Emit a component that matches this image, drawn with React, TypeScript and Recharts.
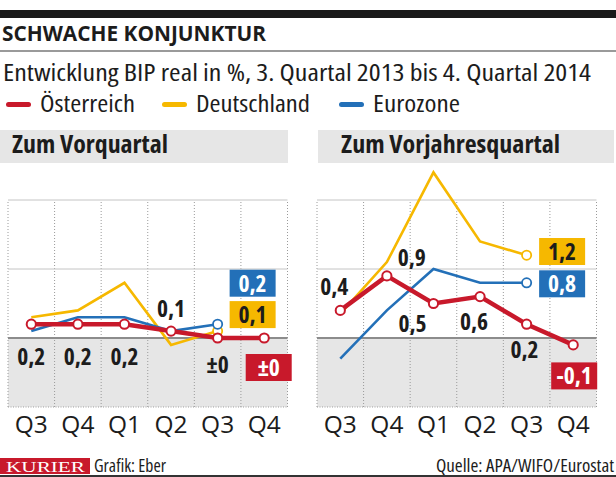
import React from "react";
import {LabelList, Line, LineChart, ReferenceArea, ReferenceLine, XAxis, YAxis,} from "recharts";

const quarters = ["Q3", "Q4", "Q1", "Q2", "Q3", "Q4"];

// Zum Vorquartal
const atQoq = [0.2, 0.2, 0.2, 0.1, 0, 0];
const deQoq = [0.3, 0.4, 0.8, -0.1, 0.1, null];
const ezQoq = [0.1, 0.3, 0.3, 0.1, 0.2, null];

// Zum Vorjahresquartal
const atYoy = [0.4, 0.9, 0.5, 0.6, 0.2, -0.1];
const deYoy = [0.35, 1.1, 2.4, 1.4, 1.2, null];
const ezYoy = [-0.3, 0.4, 1.0, 0.8, 0.8, null];

const gridValues = [-1, 0, 1, 2];

const RED = "#c8192b";
const YELLOW = "#f6b800";
const BLUE = "#2370b8";
const INK = "#1c1c1c";
const FONT = "'Open Sans', 'Roboto', sans-serif";

type Place = { dx: number; dy: number; box?: boolean } | null;

// wo die Werte neben den Punkten stehen
const atQoqPlace: Place[] = [
  {dx: 0, dy: 32}, {dx: 0, dy: 32}, {dx: 0, dy: 32},
  {dx: 0, dy: -23}, {dx: 0, dy: 27}, {dx: 4.5, dy: 29.5, box: true},
];
const deQoqPlace: Place[] = [null, null, null, null, {dx: 35, dy: -16.5, box: true}];
const ezQoqPlace: Place[] = [null, null, null, null, {dx: 35, dy: -41, box: true}];

const atYoyPlace: Place[] = [
  {dx: -6, dy: -24}, {dx: 25, dy: -18}, {dx: -21, dy: 20},
  {dx: -6, dy: 25}, {dx: -2, dy: 25}, {dx: 1, dy: 31, box: true},
];
const deYoyPlace: Place[] = [null, null, null, null, {dx: 35.5, dy: -3.7, box: true}];
const ezYoyPlace: Place[] = [null, null, null, null, {dx: 35.5, dy: 1, box: true}];

const fmt = (v: number) => (v === 0 ? "±0" : v.toFixed(1).replace(".", ","));

const labelStyle: React.CSSProperties = {fontFamily: FONT, fontWeight: 700, fontSize: 23.5, fontStretch: "87.5%"};

function makeLabel(places: Place[], boxColor: string, boxText: string) {
  return (props: any) => {
    const {value, index} = props;
    const x = props.x ?? props.viewBox?.x;
    const y = props.y ?? props.viewBox?.y;
    const p = places[index];
    if (!p || value == null || x == null) return null;
    const cx = x + p.dx;
    const cy = y + p.dy;
    if (p.box) {
      return (
        <g>
          <rect x={cx - 23} y={cy - 13.5} width={46} height={27} fill={boxColor} />
          <text x={cx} y={cy} dy="0.36em" textAnchor="middle" fill={boxText} style={labelStyle}>
            {fmt(value)}
          </text>
        </g>
      );
    }
    return (
      <text x={cx} y={cy} dy="0.36em" textAnchor="middle" fill={INK} style={labelStyle}>
        {fmt(value)}
      </text>
    );
  };
}

function lastDot(color: string, last: number) {
  return (p: any) =>
    p.index === last ? (
      <circle key={p.index} cx={p.cx} cy={p.cy} r={4.6} fill="#fff" stroke={color} strokeWidth={1.8} />
    ) : (
      <g key={p.index} />
    );
}

function Panel({at, de, ez, atPlace, dePlace, ezPlace, left, right}: any) {
  const data = quarters.map((q, i) => ({i, q, at: at[i], de: de[i], ez: ez[i]}));
  const lastDe = de.findLastIndex((v: number | null) => v != null);
  const lastEz = ez.findLastIndex((v: number | null) => v != null);
  return (
    <LineChart
      width={left + 279.5 + right}
      height={330}
      data={data}
      margin={{top: 35.5, right, bottom: 8, left}}
    >
      <XAxis
        dataKey="i"
        type="number"
        domain={[-0.5, 5.5]}
        ticks={[0, 1, 2, 3, 4, 5]}
        tickFormatter={(i: number) => quarters[i]}
        axisLine={false}
        tickLine={false}
        tickMargin={3}
        height={45}
        tick={{fill: INK, fontSize: 24.5, fontFamily: FONT, style: {fontStretch: "95%"}}}
      />
      <YAxis hide type="number" domain={[-1, 2.5]} />
      <ReferenceArea x1={-0.5} x2={5.5} y1={-1} y2={0} fill="#e6e6e6" fillOpacity={1} stroke="none" />
      {quarters.concat("").map((_, k) => (
        <ReferenceLine
          key={"v" + k}
          segment={[{x: k - 0.5, y: -1}, {x: k - 0.5, y: 2}]}
          stroke="#9a9a9a"
          strokeDasharray="1 2"
        />
      ))}
      {gridValues.map((v) => (
        <ReferenceLine
          key={"h" + v}
          y={v}
          stroke={v === 0 ? "#8c8c8c" : v === -1 ? "#a0a0a0" : "#c4c4c4"}
          strokeWidth={v === 0 ? 2 : 1}
          strokeDasharray={v === -1 ? "1 1.5" : undefined}
        />
      ))}
      <Line dataKey="de" stroke={YELLOW} strokeWidth={2.6} dot={lastDot(YELLOW, lastDe)} isAnimationActive={false}>
        <LabelList dataKey="de" content={makeLabel(dePlace, YELLOW, INK)} />
      </Line>
      <Line dataKey="ez" stroke={BLUE} strokeWidth={2.6} dot={lastDot(BLUE, lastEz)} isAnimationActive={false}>
        <LabelList dataKey="ez" content={makeLabel(ezPlace, BLUE, "#fff")} />
      </Line>
      <Line
        dataKey="at"
        stroke={RED}
        strokeWidth={4.5}
        dot={{r: 4.6, fill: "#fff", stroke: RED, strokeWidth: 2}}
        isAnimationActive={false}
      >
        <LabelList dataKey="at" content={makeLabel(atPlace, RED, "#fff")} />
      </Line>
    </LineChart>
  );
}

const abs = (s: React.CSSProperties): React.CSSProperties => ({position: "absolute", ...s});

// Texte mit fester Breite, damit sie wie im Original laufen
function T({x, y, w, size, bold, stretch = "87.5%", fill = INK, family = FONT, children}: any) {
  return (
    <text
      x={x}
      y={y}
      textLength={w}
      lengthAdjust="spacingAndGlyphs"
      fill={fill}
      style={{fontFamily: family, fontSize: size, fontWeight: bold ? 700 : 400, fontStretch: stretch}}
    >
      {children}
    </text>
  );
}

const legend = [
  {name: "Österreich", color: RED, x: 6, w: 95},
  {name: "Deutschland", color: YELLOW, x: 162, w: 114},
  {name: "Eurozone", color: BLUE, x: 339, w: 87},
];

export default function App() {
  return (
    <div style={{position: "fixed", left: 0, top: 0, width: 616, height: 477, background: "#fff", overflow: "hidden"}}>
      <div style={abs({left: 0, top: 10, width: 616, height: 8, background: "#1a1a1a"})} />
      <div style={abs({left: 0, top: 50, width: 616, height: 2, background: "#9a9a9a"})} />
      {legend.map((l) => (
        <div key={l.name} style={abs({left: l.x, top: 102, width: 25, height: 5, borderRadius: 3, background: l.color})} />
      ))}
      <div style={abs({left: 0, top: 130, width: 288, height: 33, background: "#e6e6e6"})} />
      <div style={abs({left: 318, top: 130, width: 296, height: 33, background: "#e6e6e6"})} />
      <div style={abs({left: 0, top: 458, width: 90, height: 16, background: RED})} />
      <div style={abs({left: 0, top: 475, width: 616, height: 2, background: "#333"})} />

      <div style={abs({left: 0, top: 130})}>
        <Panel at={atQoq} de={deQoq} ez={ezQoq} atPlace={atQoqPlace} dePlace={deQoqPlace} ezPlace={ezQoqPlace} left={8} right={13} />
      </div>
      <div style={abs({left: 306, top: 130})}>
        <Panel at={atYoy} de={deYoy} ez={ezYoy} atPlace={atYoyPlace} dePlace={deYoyPlace} ezPlace={ezYoyPlace} left={11} right={20} />
      </div>

      <svg width={616} height={477} style={abs({left: 0, top: 0, pointerEvents: "none"})}>
        <T x={2} y={41} w={264} size={21} bold stretch="100%">SCHWACHE KONJUNKTUR</T>
        <T x={3} y={81} w={588} size={23.5}>Entwicklung BIP real in %, 3. Quartal 2013 bis 4. Quartal 2014</T>
        {legend.map((l) => (
          <T key={l.name} x={l.x + 34} y={111.5} w={l.w} size={23.5}>{l.name}</T>
        ))}
        <T x={12} y={153} w={156} size={24} bold>Zum Vorquartal</T>
        <T x={341} y={153} w={219} size={24} bold>Zum Vorjahresquartal</T>
        <T x={6} y={471.5} w={79} size={15} stretch="100%" fill="#fff" family="'Liberation Serif', 'DejaVu Serif', serif">KURIER</T>
        <T x={94} y={472} w={72} size={18}>Grafik: Eber</T>
        <T x={436} y={472} w={178} size={18}>Quelle: APA/WIFO/Eurostat</T>
      </svg>
    </div>
  );
}
